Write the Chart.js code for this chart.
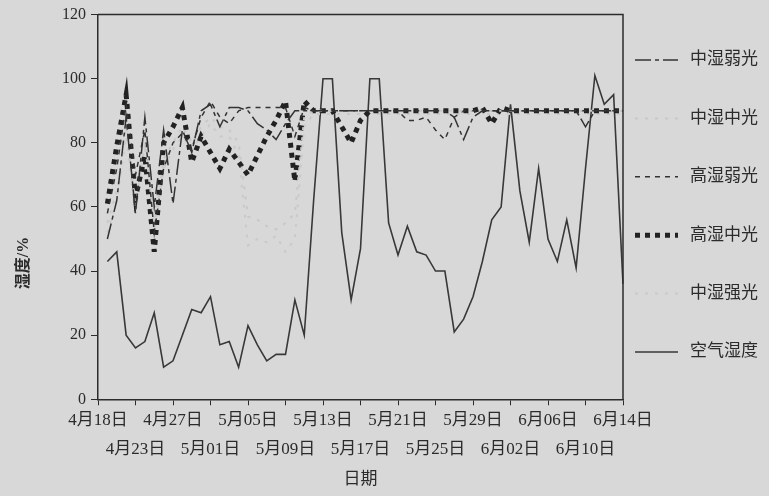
<!DOCTYPE html>
<html lang="zh">
<head>
<meta charset="utf-8">
<title>湿度变化</title>
<script src="https://cdn.jsdelivr.net/npm/chart.js@4.4.0/dist/chart.umd.min.js"></script>
<style>
  html, body { margin: 0; padding: 0; background: #d8d8d8; }
  #wrap { width: 769px; height: 496px; position: relative; }
</style>
</head>
<body>
<div id="wrap"><canvas id="humidityChart"></canvas></div>
<script>
// --- data (index 0 = 4月18日, 4月19日 missing) ---
const dates = [
  '4月18日', '4月20日', '4月21日', '4月22日', '4月23日', '4月24日', '4月25日', '4月26日',
  '4月27日', '4月28日', '4月29日', '4月30日', '5月01日', '5月02日', '5月03日', '5月04日',
  '5月05日', '5月06日', '5月07日', '5月08日', '5月09日', '5月10日', '5月11日', '5月12日',
  '5月13日', '5月14日', '5月15日', '5月16日', '5月17日', '5月18日', '5月19日', '5月20日',
  '5月21日', '5月22日', '5月23日', '5月24日', '5月25日', '5月26日', '5月27日', '5月28日',
  '5月29日', '5月30日', '5月31日', '6月01日', '6月02日', '6月03日', '6月04日', '6月05日',
  '6月06日', '6月07日', '6月08日', '6月09日', '6月10日', '6月11日', '6月12日', '6月13日',
  '6月14日'
];

const midWeak = [null, 50, 62, 88, 58, 88, 60, 84, 61, 84, 77, 90, 92, 85, 91, 91,
  90, 86, 84, 81, 86, 90, 90, 90, 90, 90, 90, 90, 90, 90, 90, 90,
  90, 90, 90, 90, 90, 90, 88, 81, 88, 90, 90, 90, 90, 90, 90, 90,
  90, 90, 90, 90, 85, 90, 90, 90, 90];

const midMid = [null, 55, 65, 85, 60, 80, 55, 75, 80, 85, 80, 85, 88, 85, 84, 80,
  57, 56, 54, 53, 55, 58, 88, 90, 90, 90, 90, 90, 90, 90, 90, 90,
  90, 90, 90, 90, 90, 90, 90, 90, 90, 90, 90, 90, 90, 90, 90, 90,
  90, 90, 90, 90, 90, 90, 90, 90, 90];

const highWeak = [null, 58, 72, 92, 70, 84, 52, 72, 80, 83, 78, 88, 93, 88, 86, 90,
  91, 91, 91, 91, 91, 82, 91, 90, 90, 90, 90, 90, 90, 90, 90, 90,
  90, 87, 87, 88, 84, 81, 88, 90, 90, 90, 90, 90, 90, 90, 90, 90,
  90, 90, 90, 90, 90, 90, 90, 90, 90];

const highMid = [null, 61, 79, 95, 63, 76, 46, 80, 85, 91, 74, 82, 77, 72, 78, 74,
  70, 76, 82, 87, 93, 68, 93, 90, 90, 90, 85, 80, 87, 90, 90, 90,
  90, 90, 90, 90, 90, 90, 90, 90, 90, 91, 86, 91, 90, 90, 90, 90,
  90, 90, 90, 90, 90, 90, 90, 90, 90];

const midStrong = [null, 52, 62, 82, 58, 78, 52, 72, 78, 82, 78, 82, 86, 82, 82, 76,
  48, 50, 49, 51, 46, 50, 85, 89, 89, 89, 89, 89, 89, 89, 89, 89,
  89, 89, 89, 89, 89, 89, 89, 89, 89, 89, 89, 89, 89, 89, 89, 89,
  89, 89, 89, 89, 89, 89, 89, 89, 89];

const airHumidity = [null, 43, 46, 20, 16, 18, 27, 10, 12, 20, 28, 27, 32, 17, 18, 10,
  23, 17, 12, 14, 14, 31, 20, 62, 100, 100, 52, 31, 47, 100, 100, 55,
  45, 54, 46, 45, 40, 40, 21, 25, 32, 43, 56, 60, 92, 65, 49, 72,
  50, 43, 56, 41, 72, 101, 92, 95, 36];

const yTicks = { min: 0, max: 120, step: 20 };

const fontFamily = "'Liberation Serif', 'Noto Sans CJK SC', serif";
const ink = '#2b2b2b';

// draws the top/right frame of the plot and the legend on the right
const frameAndLegend = {
  id: 'frameAndLegend',
  afterDraw(chart) {
    const { ctx, chartArea: a } = chart;
    ctx.save();
    ctx.strokeStyle = ink;
    ctx.lineWidth = 1.5;
    ctx.beginPath();
    ctx.moveTo(a.left, a.top);
    ctx.lineTo(a.right, a.top);
    ctx.lineTo(a.right, a.bottom);
    ctx.stroke();

    chart.data.datasets.forEach((ds, i) => {
      const y = 60 + i * 58.4;
      const x0 = a.right + 12;
      ctx.setLineDash(ds.borderDash || []);
      ctx.strokeStyle = ds.borderColor;
      ctx.lineWidth = ds.borderWidth;
      ctx.lineCap = 'butt';
      ctx.beginPath();
      ctx.moveTo(x0, y);
      ctx.lineTo(x0 + 43, y);
      ctx.stroke();
      ctx.setLineDash([]);
      ctx.fillStyle = ink;
      ctx.font = '17px ' + fontFamily;
      ctx.textBaseline = 'middle';
      ctx.fillText(ds.label, x0 + 55, y);
    });
    ctx.restore();
  }
};

const line = (label, data, color, width, dash) => ({
  label, data,
  borderColor: color,
  backgroundColor: color,
  borderWidth: width,
  borderDash: dash,
  borderCapStyle: 'butt',
  pointRadius: 0,
  tension: 0,
  fill: false
});

const ctx = document.getElementById('humidityChart');

new Chart(ctx, {
  type: 'line',
  data: {
    labels: dates,
    datasets: [
      line('中湿弱光', midWeak, '#333333', 1.5, [16, 4, 4, 4]),
      line('中湿中光', midMid, '#c8c8c8', 2, [3, 7]),
      line('高湿弱光', highWeak, '#333333', 1.5, [5, 5]),
      line('高湿中光', highMid, '#222222', 5, [5, 5]),
      line('中湿强光', midStrong, '#cacaca', 2, [3, 7]),
      line('空气湿度', airHumidity, '#383838', 1.6, [])
    ]
  },
  plugins: [frameAndLegend],
  options: {
    responsive: true,
    maintainAspectRatio: false,
    animation: false,
    layout: { padding: { top: 5, right: 146, bottom: 0, left: 0 } },
    plugins: {
      legend: { display: false },
      tooltip: { enabled: false }
    },
    scales: {
      x: {
        type: 'category',
        offset: false,
        grid: {
          drawOnChartArea: false,
          drawTicks: true,
          tickLength: 6,
          tickColor: (c) => (c.index % 4 === 0 ? ink : 'rgba(0,0,0,0)')
        },
        border: { display: true, color: ink, width: 1.5 },
        ticks: {
          autoSkip: false,
          maxRotation: 0,
          minRotation: 0,
          padding: 1,
          color: ink,
          font: { family: fontFamily, size: 17, lineHeight: 1.7 },
          callback: function (value, index) {
            if (index % 4 !== 0) return '';
            const d = dates[index];
            return index % 8 === 0 ? [d, ''] : ['', d];
          }
        },
        title: {
          display: true,
          text: '日期',
          color: ink,
          font: { family: fontFamily, size: 17, lineHeight: 1.2 },
          padding: { top: 4, bottom: 6.5 }
        }
      },
      y: {
        min: yTicks.min,
        max: yTicks.max,
        grid: {
          drawOnChartArea: false,
          drawTicks: true,
          tickLength: 7,
          tickColor: ink
        },
        border: { display: true, color: ink, width: 1.5 },
        ticks: {
          stepSize: yTicks.step,
          padding: 5,
          color: ink,
          font: { family: fontFamily, size: 16 }
        },
        title: {
          display: true,
          text: '湿度/%\u3000\u3000\u3000\u3000\u3000\u3000\u3000',
          color: ink,
          font: { family: fontFamily, size: 16, weight: 'bold', lineHeight: 1.2 },
          padding: { top: 14, bottom: 23.8 }
        }
      }
    }
  }
});
</script>
</body>
</html>
